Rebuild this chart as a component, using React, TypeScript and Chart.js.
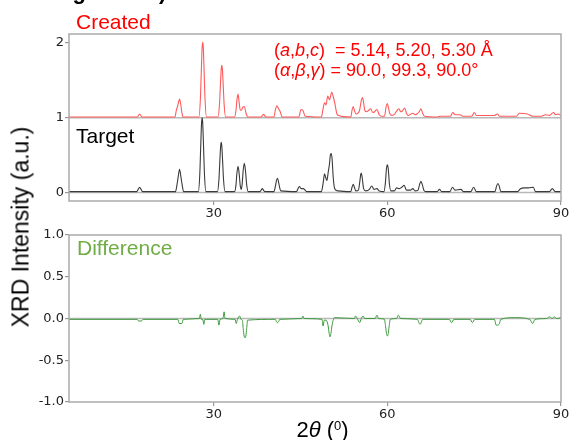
import React, { useEffect, useRef } from "react";
import { Chart, registerables } from "chart.js";
Chart.register(...registerables);

// ---- data (2θ in degrees, intensity in a.u.) ----
const xTicks = [30, 60, 90];
const topYTicks = [0, 1, 2];
const bottomYTicks = [-1, -0.5, 0, 0.5, 1];
const createdOffset = 1;
const refLinesTop = [0, 1];
const refLinesBottom = [0];

const targetPts: [number, number][] = [
  [5, 0.01], [16.7, 0.01], [16.95, 0.04], [17.2, 0.07], [17.45, 0.04], [17.7, 0.01],
  [23.4, 0.01], [23.65, 0.1], [23.85, 0.2], [24.1, 0.31], [24.35, 0.2], [24.55, 0.1], [24.8, 0.01],
  [27.35, 0.01], [27.6, 0.25], [27.75, 0.6], [27.9, 0.93], [28.0, 1.0], [28.1, 0.93], [28.25, 0.6], [28.4, 0.25], [28.65, 0.01],
  [30.65, 0.01], [30.9, 0.17], [31.05, 0.4], [31.2, 0.62], [31.3, 0.67], [31.4, 0.62], [31.55, 0.4], [31.7, 0.17], [31.95, 0.01],
  [33.6, 0.01], [33.85, 0.1], [34.0, 0.25], [34.2, 0.35], [34.4, 0.25], [34.6, 0.08], [34.75, 0.04],
  [34.9, 0.1], [35.1, 0.3], [35.3, 0.39], [35.5, 0.28], [35.7, 0.1], [35.95, 0.01],
  [38.0, 0.01], [38.2, 0.03], [38.4, 0.05], [38.6, 0.03], [38.8, 0.01],
  [40.4, 0.01], [40.65, 0.08], [40.85, 0.16], [41.0, 0.19], [41.15, 0.16], [41.35, 0.08], [41.6, 0.02],
  [44.3, 0.01], [44.55, 0.05], [44.8, 0.08], [45.1, 0.05], [45.5, 0.05], [45.8, 0.03], [46.1, 0.01],
  [48.6, 0.01], [48.9, 0.12], [49.15, 0.25], [49.35, 0.2], [49.55, 0.16], [49.8, 0.28], [50.0, 0.38], [50.15, 0.5],
  [50.3, 0.52], [50.45, 0.45], [50.65, 0.2], [50.9, 0.05], [51.5, 0.02],
  [53.7, 0.01], [53.9, 0.07], [54.1, 0.11], [54.3, 0.07], [54.55, 0.02],
  [55.0, 0.03], [55.25, 0.15], [55.4, 0.24], [55.5, 0.26], [55.65, 0.2], [55.9, 0.05], [56.3, 0.02],
  [56.9, 0.04], [57.3, 0.085], [57.7, 0.04], [58.2, 0.05], [58.6, 0.02],
  [59.4, 0.01], [59.65, 0.12], [59.85, 0.32], [60.0, 0.37], [60.15, 0.32], [60.35, 0.12], [60.6, 0.02],
  [61.2, 0.02], [61.6, 0.06], [62.0, 0.05], [62.5, 0.07], [62.9, 0.095], [63.3, 0.03],
  [64.0, 0.03], [64.4, 0.05], [64.8, 0.02], [65.3, 0.03], [65.55, 0.1], [65.8, 0.15], [66.05, 0.1], [66.3, 0.03], [66.7, 0.01],
  [68.6, 0.01], [69.0, 0.04], [69.4, 0.01], [70.8, 0.01], [71.25, 0.07], [71.7, 0.03], [72.7, 0.04], [73.2, 0.01],
  [74.4, 0.01], [74.9, 0.07], [75.4, 0.01],
  [78.6, 0.01], [78.85, 0.08], [79.1, 0.12], [79.35, 0.08], [79.6, 0.01],
  [82.5, 0.01], [83.0, 0.05], [83.7, 0.06], [84.4, 0.06], [85.2, 0.07], [85.6, 0.01],
  [88.0, 0.01], [88.5, 0.05], [89.0, 0.01], [90, 0.01],
];

const createdPts: [number, number][] = [
  [5, 0.01], [16.8, 0.01], [17.2, 0.05], [17.6, 0.01],
  [23.3, 0.01], [23.55, 0.1], [23.75, 0.15], [23.9, 0.2], [24.1, 0.25], [24.3, 0.18], [24.5, 0.07], [24.7, 0.01],
  [27.45, 0.01], [27.7, 0.25], [27.85, 0.6], [28.0, 0.94], [28.1, 1.01], [28.2, 0.94], [28.35, 0.6], [28.5, 0.25], [28.75, 0.01],
  [30.75, 0.01], [31.0, 0.18], [31.15, 0.42], [31.3, 0.65], [31.4, 0.7], [31.5, 0.65], [31.65, 0.42], [31.8, 0.18], [32.05, 0.01],
  [33.6, 0.01], [33.85, 0.1], [34.0, 0.23], [34.2, 0.315], [34.4, 0.2], [34.6, 0.1], [34.8, 0.1], [35.0, 0.14], [35.3, 0.15], [35.55, 0.07], [35.9, 0.01],
  [38.2, 0.01], [38.6, 0.045], [39.0, 0.01],
  [40.4, 0.01], [40.65, 0.1], [40.9, 0.16], [41.2, 0.12], [41.5, 0.08], [41.8, 0.01],
  [44.7, 0.01], [45.1, 0.11], [45.4, 0.1], [45.8, 0.02],
  [48.6, 0.01], [48.9, 0.12], [49.15, 0.2], [49.4, 0.17], [49.7, 0.29], [50.0, 0.24], [50.4, 0.34], [50.65, 0.28], [50.9, 0.2], [51.3, 0.05], [51.6, 0.03],
  [53.7, 0.01], [53.9, 0.1], [54.1, 0.15], [54.3, 0.1], [54.6, 0.05], [55.2, 0.1], [55.5, 0.23], [55.7, 0.27], [55.9, 0.2], [56.1, 0.1], [56.4, 0.08],
  [56.8, 0.1], [57.1, 0.12], [57.5, 0.07], [57.8, 0.08], [58.2, 0.11], [58.6, 0.04], [59.0, 0.02],
  [59.5, 0.02], [59.8, 0.15], [60.0, 0.19], [60.2, 0.13], [60.4, 0.06], [60.8, 0.03], [61.3, 0.05], [61.6, 0.09], [62.0, 0.12], [62.3, 0.08],
  [62.6, 0.09], [63.0, 0.13], [63.3, 0.06], [63.6, 0.03], [64.4, 0.06], [64.8, 0.04], [65.1, 0.05], [65.5, 0.08],
  [65.8, 0.12], [66.1, 0.06], [66.4, 0.02],
  [68.7, 0.01], [69.1, 0.02], [70.9, 0.02], [71.3, 0.07], [71.7, 0.04], [72.6, 0.04], [73.0, 0.02],
  [74.6, 0.02], [75.0, 0.07], [75.4, 0.03], [76.1, 0.03], [78.5, 0.03], [79.0, 0.05], [79.4, 0.02],
  [82.3, 0.02], [82.8, 0.06], [84.2, 0.05], [85.1, 0.02], [86.6, 0.02], [87.3, 0.04], [88.0, 0.03],
  [88.7, 0.07], [89.1, 0.04], [89.5, 0.05], [90, 0.03],
];

const differencePts: [number, number][] = [
  [5, -0.01], [16.8, -0.01], [17.0, -0.03], [17.5, -0.03], [17.8, -0.01],
  [23.8, -0.01], [24.05, -0.06], [24.5, -0.06], [24.75, -0.01],
  [27.5, 0.0], [27.7, 0.05], [27.85, -0.01], [28.1, -0.01], [28.3, -0.07], [28.45, -0.01],
  [30.7, -0.01], [30.9, -0.08], [31.1, -0.01], [31.6, 0.0], [31.8, 0.08], [31.95, 0.0],
  [33.7, -0.01], [33.9, -0.06], [34.1, -0.01], [34.5, 0.03], [34.7, -0.01],
  [34.95, -0.02], [35.1, -0.12], [35.25, -0.21], [35.4, -0.23], [35.55, -0.21], [35.7, -0.12], [35.85, -0.02],
  [40.65, -0.01], [40.85, -0.04], [41.0, -0.05], [41.2, -0.04], [41.4, -0.01],
  [45.2, 0.0], [45.4, 0.03], [45.6, 0.0],
  [48.7, -0.01], [48.9, -0.09], [49.1, -0.02], [49.4, -0.02], [49.75, -0.08], [49.95, -0.18], [50.1, -0.22], [50.25, -0.18], [50.45, -0.08], [50.7, -0.01], [50.9, 0.01],
  [54.3, 0.0], [54.5, 0.03], [54.8, 0.0], [55.2, -0.05], [55.5, 0.0], [55.8, 0.03], [56.1, 0.0],
  [57.9, 0.0], [58.2, 0.04], [58.5, 0.0],
  [59.5, -0.01], [59.7, -0.1], [59.85, -0.18], [60.0, -0.21], [60.15, -0.18], [60.3, -0.1], [60.5, -0.01],
  [61.6, 0.0], [61.9, 0.04], [62.3, 0.0],
  [65.2, -0.01], [65.45, -0.05], [65.65, -0.07], [65.85, -0.05], [66.1, -0.01],
  [70.7, -0.01], [71.1, -0.05], [71.5, -0.01],
  [74.3, -0.01], [74.7, -0.05], [75.1, -0.01],
  [78.5, -0.01], [78.8, -0.08], [79.3, -0.07], [79.6, -0.01],
  [81.9, 0.01], [82.1, 0.01],
  [84.6, -0.01], [85.1, -0.06], [85.5, -0.01],
  [87.5, 0.0], [88.0, 0.02], [88.5, 0.0], [88.8, 0.02], [89.3, 0.0], [90, 0.01],
];

// ---- styling ----
const SANS = "'Liberation Sans', Arial, sans-serif";
const TICK_FONT = { family: "'DejaVu Sans', sans-serif", size: 13 };
const FRAME_COLOR = "#ababab";
const REF_COLOR = "#b8b8b8";

const framePlugin = {
  id: "frame",
  beforeDatasetsDraw(chart: any, _args: any, opts: any) {
    const { ctx, chartArea, scales } = chart;
    ctx.save();
    ctx.strokeStyle = REF_COLOR;
    ctx.lineWidth = 1.5;
    for (const v of opts.refLines || []) {
      const y = scales.y.getPixelForValue(v);
      ctx.beginPath();
      ctx.moveTo(chartArea.left, y);
      ctx.lineTo(chartArea.right, y);
      ctx.stroke();
    }
    ctx.restore();
  },
  afterDraw(chart: any) {
    const { ctx, chartArea } = chart;
    ctx.save();
    ctx.strokeStyle = FRAME_COLOR;
    ctx.lineWidth = 1.5;
    ctx.strokeRect(chartArea.left, chartArea.top, chartArea.right - chartArea.left, chartArea.bottom - chartArea.top);
    ctx.restore();
  },
};

function toXY(pts: [number, number][], offset = 0) {
  return pts.map(([x, y]) => ({ x, y: y + offset }));
}

function makeScales(yMin: number, yMax: number, yTicks: number[], fmt: (v: number) => string, xAxisH: number) {
  return {
    x: {
      type: "linear",
      min: 5,
      max: 90,
      afterBuildTicks: (axis: any) => { axis.ticks = xTicks.map((v) => ({ value: v })); },
      afterFit: (axis: any) => { axis.height = xAxisH; },
      grid: { drawOnChartArea: false, drawTicks: true, tickLength: 4, color: "#999", lineWidth: 1.2 },
      border: { display: false },
      ticks: { font: TICK_FONT, color: "#222", padding: 1, maxRotation: 0, autoSkip: false, callback: (v: any) => String(v) },
    },
    y: {
      type: "linear",
      min: yMin,
      max: yMax,
      afterBuildTicks: (axis: any) => { axis.ticks = yTicks.map((v) => ({ value: v })); },
      afterFit: (axis: any) => { axis.width = 69; },
      grid: { drawOnChartArea: false, drawTicks: true, tickLength: 4, color: "#999", lineWidth: 1.2 },
      border: { display: false },
      ticks: { font: TICK_FONT, color: "#222", padding: 1, autoSkip: false, callback: (v: any) => fmt(Number(v)) },
    },
  };
}

function lineDs(data: any[], color: string, width = 1) {
  return {
    data,
    borderColor: color,
    borderWidth: width,
    pointRadius: 0,
    fill: false,
    cubicInterpolationMode: "monotone",
  };
}

export default function App() {
  const topRef = useRef<HTMLCanvasElement>(null);
  const botRef = useRef<HTMLCanvasElement>(null);

  useEffect(() => {
    const top = new Chart(topRef.current as HTMLCanvasElement, {
      type: "line",
      data: {
        datasets: [
          lineDs(toXY(targetPts), "#3a3a3a", 1.1),
          lineDs(toXY(createdPts, createdOffset), "#ff5a5a", 1.1),
        ] as any,
      },
      options: {
        responsive: false,
        animation: false,
        devicePixelRatio: 1,
        layout: { padding: { left: 0, right: 11, top: 34, bottom: 0 } },
        plugins: { legend: { display: false }, tooltip: { enabled: false }, frame: { refLines: refLinesTop } } as any,
        scales: makeScales(-0.115, 2.12, topYTicks, (v) => String(v), 21) as any,
      },
      plugins: [framePlugin as any],
    });
    const bot = new Chart(botRef.current as HTMLCanvasElement, {
      type: "line",
      data: { datasets: [lineDs(toXY(differencePts), "#3c9a3c", 1)] as any },
      options: {
        responsive: false,
        animation: false,
        devicePixelRatio: 1,
        layout: { padding: { left: 0, right: 11, top: 13, bottom: 0 } },
        plugins: { legend: { display: false }, tooltip: { enabled: false }, frame: { refLines: refLinesBottom } } as any,
        scales: makeScales(-1, 1, bottomYTicks, (v) => v.toFixed(1), 38) as any,
      },
      plugins: [framePlugin as any],
    });
    return () => { top.destroy(); bot.destroy(); };
  }, []);

  const abs = (s: React.CSSProperties): React.CSSProperties => ({ position: "absolute", whiteSpace: "pre", ...s });

  return (
    <div style={{ position: "absolute", left: 0, top: 0, width: 572, height: 440, overflow: "hidden", background: "#fff", fontFamily: SANS }}>
      <canvas ref={topRef} width={572} height={222} style={{ position: "absolute", left: 0, top: 0, width: 572, height: 222 }} />
      <canvas ref={botRef} width={572} height={218} style={{ position: "absolute", left: 0, top: 222, width: 572, height: 218 }} />

      <div style={abs({ left: 53, top: -19, fontSize: 22, lineHeight: "22px", fontWeight: "bold", color: "#000" })}>ing: SrTiO)</div>

      <div style={abs({ left: 76, top: 10.5, fontSize: 21, lineHeight: "21px", color: "#ff0000" })}>Created</div>
      <div style={abs({ left: 76, top: 125, fontSize: 21, lineHeight: "21px", color: "#000" })}>Target</div>
      <div style={abs({ left: 77, top: 237, fontSize: 21, lineHeight: "21px", color: "#70ad47" })}>Difference</div>

      <div style={abs({ left: 274, top: 39.5, fontSize: 18, lineHeight: "20.5px", color: "#ff0000" })}>
        <div>(<i>a</i>,<i>b</i>,<i>c</i>)  = 5.14, 5.20, 5.30 Å</div>
        <div>(<i>α</i>,<i>β</i>,<i>γ</i>) = 90.0, 99.3, 90.0°</div>
      </div>

      <div style={abs({ left: 21, top: 227, fontSize: 23, lineHeight: "23px", color: "#000", transform: "translate(-50%, -50%) rotate(-90deg)" })}>XRD Intensity (a.u.)</div>

      <div style={abs({ left: 322.5, top: 415.4, fontSize: 22, lineHeight: "22px", color: "#000", transform: "translateX(-50%)" })}>
        2<i>θ</i> (<span style={{ fontSize: 13, verticalAlign: "0.55em" }}>0</span>)
      </div>
    </div>
  );
}
